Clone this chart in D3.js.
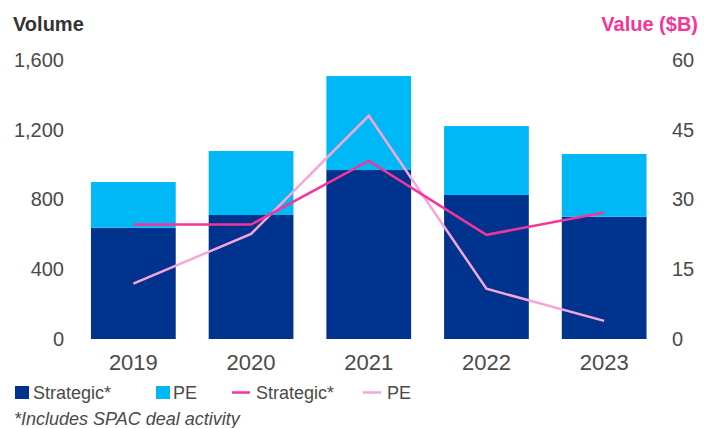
<!DOCTYPE html>
<html>
<head>
<meta charset="utf-8">
<script src="https://cdn.jsdelivr.net/npm/d3@7"></script>
<style>
  html, body { margin: 0; padding: 0; background: #fff; }
  svg { display: block; font-family: "Liberation Sans", Arial, sans-serif; }
</style>
</head>
<body>
<svg id="chart" width="704" height="428"></svg>
<script>
const years = ["2019", "2020", "2021", "2022", "2023"];
const volumeStrategic = [638, 711, 969, 826, 701];
const volumePE = [262, 367, 539, 395, 360];
const valueStrategic = [24.6, 24.6, 38.3, 22.4, 27.2];
const valuePE = [11.9, 22.6, 48.0, 10.8, 3.9];
const leftTicks = [0, 400, 800, 1200, 1600];
const rightTicks = [0, 15, 30, 45, 60];

const colors = {
  strategicBar: "#00338D",
  peBar: "#00B8F5",
  strategicLine: "#F5349A",
  peLine: "#F8A5DA",
  text: "#4a4a4a"
};

const svg = d3.select("#chart");

const x = d3.scaleBand().domain(years).range([74.5, 663]).paddingInner(0.28).paddingOuter(0.14);
const yL = d3.scaleLinear().domain([0, 1600]).range([339, 60]);
const yR = d3.scaleLinear().domain([0, 60]).range([339, 60]);

// Bars
const rows = years.map((yr, i) => ({ year: yr, Strategic: volumeStrategic[i], PE: volumePE[i] }));
const stack = d3.stack().keys(["Strategic", "PE"])(rows);
const barColor = { Strategic: colors.strategicBar, PE: colors.peBar };
svg.append("g").selectAll("g").data(stack).join("g")
  .attr("fill", d => barColor[d.key])
  .selectAll("rect").data(d => d).join("rect")
  .attr("x", d => x(d.data.year))
  .attr("width", x.bandwidth())
  .attr("y", d => yL(d[1]))
  .attr("height", d => yL(d[0]) - yL(d[1]));

// Lines
const line = (scale) => d3.line().x((d, i) => x(years[i]) + x.bandwidth() / 2).y(d => scale(d));
svg.append("path").datum(valuePE).attr("fill", "none")
  .attr("stroke", colors.peLine).attr("stroke-width", 2.5)
  .attr("stroke-linejoin", "miter").attr("d", line(yR));
svg.append("path").datum(valueStrategic).attr("fill", "none")
  .attr("stroke", colors.strategicLine).attr("stroke-width", 2.5)
  .attr("stroke-linejoin", "miter").attr("d", line(yR));

// Axes
const leftAxis = d3.axisLeft(yL).tickValues(leftTicks).tickSize(0).tickPadding(0).tickFormat(d3.format(","));
const gL = svg.append("g").attr("transform", "translate(64,0)").call(leftAxis);
gL.select(".domain").remove();
gL.selectAll("text").attr("font-size", 20).attr("fill", colors.text).attr("font-family", "Liberation Sans, Arial, sans-serif");

const rightAxis = d3.axisRight(yR).tickValues(rightTicks).tickSize(0).tickPadding(0);
const gR = svg.append("g").attr("transform", "translate(672,0)").call(rightAxis);
gR.select(".domain").remove();
gR.selectAll("text").attr("font-size", 20).attr("fill", colors.text).attr("font-family", "Liberation Sans, Arial, sans-serif");

const bottomAxis = d3.axisBottom(x).tickSize(0).tickPadding(0);
const gB = svg.append("g").attr("transform", "translate(0,350)").call(bottomAxis);
gB.select(".domain").remove();
gB.selectAll("text").attr("font-size", 22).attr("fill", colors.text).attr("dy", "0.9em")
  .attr("font-family", "Liberation Sans, Arial, sans-serif");

// Titles
svg.append("text").attr("x", 13).attr("y", 31).attr("font-size", 20).attr("font-weight", "bold")
  .attr("fill", "#333").text("Volume");
svg.append("text").attr("x", 698).attr("y", 31).attr("font-size", 20).attr("font-weight", "bold")
  .attr("text-anchor", "end").attr("fill", colors.strategicLine).text("Value ($B)");

// Legend
const legendItems = [
  { type: "rect", color: colors.strategicBar, label: "Strategic*", sx: 15, tx: 33 },
  { type: "rect", color: colors.peBar, label: "PE", sx: 156, tx: 173 },
  { type: "line", color: colors.strategicLine, label: "Strategic*", sx: 232, tx: 256 },
  { type: "line", color: colors.peLine, label: "PE", sx: 363, tx: 387 }
];
const lg = svg.append("g");
legendItems.forEach(it => {
  if (it.type === "rect") {
    lg.append("rect").attr("x", it.sx).attr("y", 386).attr("width", 14).attr("height", 13).attr("fill", it.color);
  } else {
    lg.append("line").attr("x1", it.sx).attr("x2", it.sx + 18).attr("y1", 392.5).attr("y2", 392.5)
      .attr("stroke", it.color).attr("stroke-width", 2.5);
  }
  lg.append("text").attr("x", it.tx).attr("y", 399).attr("font-size", 18).attr("fill", colors.text).text(it.label);
});

svg.append("text").attr("x", 14).attr("y", 425).attr("font-size", 18).attr("font-style", "italic")
  .attr("fill", colors.text).text("*Includes SPAC deal activity");
</script>
</body>
</html>
